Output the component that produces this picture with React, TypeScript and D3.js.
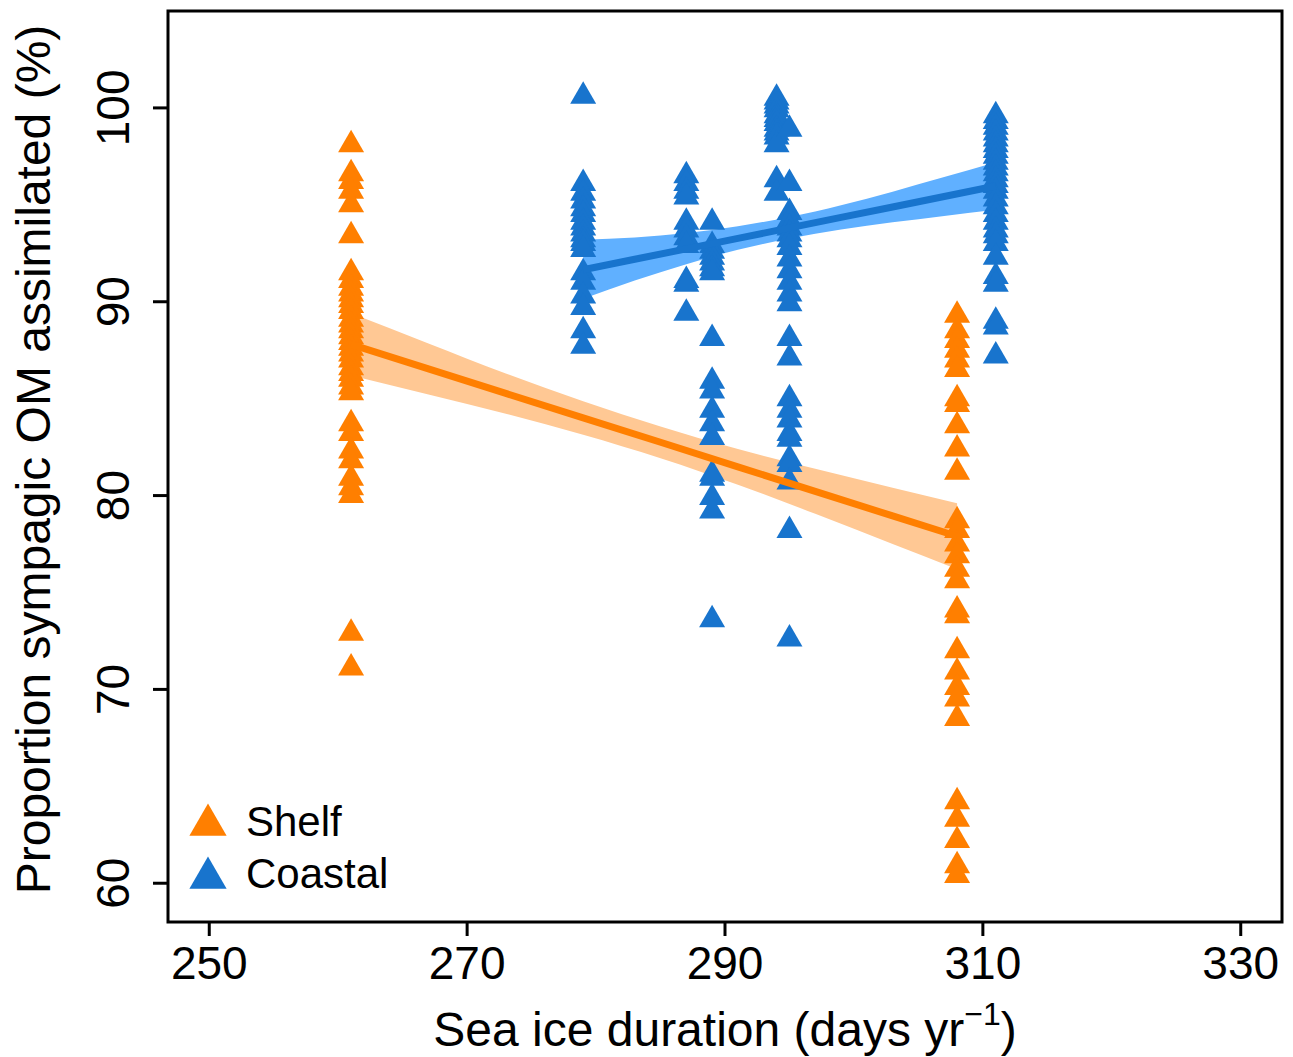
import * as d3 from "d3";

const WIDTH = 1293;
const HEIGHT = 1057;
const BOX = { left: 168, right: 1282, top: 11, bottom: 922 };

const X_TICKS = [250, 270, 290, 310, 330];
const Y_TICKS = [60, 70, 80, 90, 100];

// Shelf stations (sea ice duration, days/yr)
const shelf261 = [
  98.1, 96.6, 96.2, 95.7, 95.0, 93.4, 91.5, 91.1, 90.7, 90.4, 90.1, 89.8,
  89.5, 89.1, 88.8, 88.5, 88.2, 87.9, 87.6, 87.3, 87.0, 86.6, 86.3, 86.0,
  85.6, 85.3, 83.7, 83.2, 82.3, 81.8, 80.9, 80.4, 80.0, 72.9, 71.1,
];
const shelf308 = [
  89.3, 88.5, 88.0, 87.5, 87.0, 86.5, 85.0, 84.7, 83.6, 82.4, 81.2, 78.7,
  78.2, 77.5, 76.9, 76.2, 75.6, 74.1, 73.8, 72.0, 70.9, 70.1, 69.5, 68.5,
  64.2, 63.3, 62.2, 60.9, 60.4,
];

// Coastal stations
const coastal279 = [
  100.6, 96.1, 95.6, 95.2, 94.8, 94.5, 94.1, 93.8, 93.5, 93.2, 93.0, 92.7,
  91.5, 91.0, 90.3, 89.7, 88.5, 87.7,
];
const coastal287 = [96.5, 96.1, 95.7, 95.4, 94.1, 93.7, 93.3, 92.9, 91.1, 90.9, 89.4];
const coastal289 = [
  94.1, 92.9, 92.6, 92.3, 92.0, 91.7, 91.5, 88.1, 85.9, 85.4, 84.4, 83.7,
  83.0, 81.1, 80.9, 79.9, 79.2, 73.6,
];
const coastal294 = [100.5, 100.3, 100.1, 99.9, 99.6, 99.4, 99.2, 98.9, 98.7, 98.5, 98.1, 96.3, 95.6];
const coastal295 = [
  98.9, 96.1, 94.6, 94.2, 93.8, 93.5, 93.2, 92.8, 92.2, 91.6, 91.0, 90.4,
  89.9, 88.1, 87.1, 85.0, 84.4, 83.9, 83.2, 82.9, 81.9, 81.6, 80.7, 78.2,
  72.6,
];
const coastal311 = [
  99.6, 99.3, 99.0, 98.7, 98.4, 98.1, 97.8, 97.5, 97.2, 96.9, 96.6, 96.3,
  96.0, 95.7, 95.3, 94.9, 94.5, 94.1, 93.7, 93.4, 93.0, 92.3, 91.3, 90.9,
  89.0, 88.7, 87.2,
];

// fitted lines with 95% bands
const shelfFitX = [261, 267, 273, 279, 285, 291, 297, 303, 308];
const shelfFit = [87.8, 86.54, 85.27, 84.01, 82.75, 81.48, 80.22, 78.95, 77.9];
const shelfUpper = [89.4, 87.85, 86.3, 84.87, 83.57, 82.4, 81.38, 80.4, 79.6];
const shelfLower = [86.2, 85.22, 84.22, 83.14, 81.93, 80.56, 79.06, 77.5, 76.2];

const coastalFitX = [279, 283, 287, 291, 295, 299, 303, 307, 311];
const coastalFit = [91.65, 92.19, 92.73, 93.27, 93.81, 94.35, 94.89, 95.43, 95.97];
const coastalUpper = [93.2, 93.32, 93.55, 93.9, 94.37, 94.98, 95.68, 96.43, 97.2];
const coastalLower = [90.15, 91.1, 91.94, 92.68, 93.26, 93.73, 94.1, 94.43, 94.75];

const ORANGE = "#FF7F00";
const ORANGE_BAND = "#FFC894";
const BLUE = "#1874CD";
const BLUE_BAND = "#60B0FF";
const FONT = "'Liberation Sans', Arial, Helvetica, sans-serif";

const toPoints = (x: number, ys: number[]) => ys.map((y) => ({ x, y }));

const shelfPoints = [...toPoints(261, shelf261), ...toPoints(308, shelf308)];
const coastalPoints = [
  ...toPoints(279, coastal279),
  ...toPoints(287, coastal287),
  ...toPoints(289, coastal289),
  ...toPoints(294, coastal294),
  ...toPoints(295, coastal295),
  ...toPoints(311, coastal311),
];

// R's pch 17: apex r above the point, base r/2 below
const triangle = (cx: number, cy: number, r: number) => {
  const h = r * 0.866;
  return `M${cx},${cy - r}L${cx + h},${cy + r / 2}L${cx - h},${cy + r / 2}Z`;
};

export default function App() {
  const xScale = d3.scaleLinear().domain([246.8, 333.2]).range([BOX.left, BOX.right]);
  const yScale = d3.scaleLinear().domain([58, 105]).range([BOX.bottom, BOX.top]);

  const band = (xs: number[], lo: number[], hi: number[]) =>
    d3
      .area<number>()
      .x((_, i) => xScale(xs[i]))
      .y0((_, i) => yScale(lo[i]))
      .y1((_, i) => yScale(hi[i]))
      .curve(d3.curveMonotoneX)(xs) || "";

  const line = (xs: number[], ys: number[]) =>
    d3
      .line<number>()
      .x((_, i) => xScale(xs[i]))
      .y((_, i) => yScale(ys[i]))(xs) || "";

  const R = 15;

  return (
    <svg
      width={WIDTH}
      height={HEIGHT}
      style={{ position: "absolute", left: 0, top: 0, background: "#fff" }}
      fontFamily={FONT}
    >
      <rect width={WIDTH} height={HEIGHT} fill="#fff" />

      <path d={band(shelfFitX, shelfLower, shelfUpper)} fill={ORANGE_BAND} />
      <path d={band(coastalFitX, coastalLower, coastalUpper)} fill={BLUE_BAND} />

      {shelfPoints.map((d, i) => (
        <path key={"s" + i} d={triangle(xScale(d.x), yScale(d.y), R)} fill={ORANGE} />
      ))}
      {coastalPoints.map((d, i) => (
        <path key={"c" + i} d={triangle(xScale(d.x), yScale(d.y), R)} fill={BLUE} />
      ))}

      <path d={line(shelfFitX, shelfFit)} stroke={ORANGE} strokeWidth={7} fill="none" />
      <path d={line(coastalFitX, coastalFit)} stroke={BLUE} strokeWidth={7} fill="none" />

      {/* box */}
      <rect
        x={BOX.left}
        y={BOX.top}
        width={BOX.right - BOX.left}
        height={BOX.bottom - BOX.top}
        fill="none"
        stroke="#000"
        strokeWidth={3}
      />

      {/* x axis */}
      {X_TICKS.map((t) => (
        <g key={"x" + t} transform={`translate(${xScale(t)},0)`}>
          <line y1={BOX.bottom} y2={BOX.bottom + 14} stroke="#000" strokeWidth={3} />
          <text y={979} textAnchor="middle" fontSize={46}>
            {t}
          </text>
        </g>
      ))}

      {/* y axis */}
      {Y_TICKS.map((t) => (
        <g key={"y" + t} transform={`translate(0,${yScale(t)})`}>
          <line x1={BOX.left} x2={BOX.left - 15} stroke="#000" strokeWidth={3} />
          <text transform="translate(129,0) rotate(-90)" textAnchor="middle" fontSize={46}>
            {t}
          </text>
        </g>
      ))}

      <text x={(BOX.left + BOX.right) / 2} y={1046} textAnchor="middle" fontSize={48}>
        Sea ice duration (days yr
        <tspan fontSize={32} dy={-21}>
          {"\u22121"}
        </tspan>
        <tspan dy={21}>)</tspan>
      </text>

      <text
        transform={`translate(50,${(BOX.top + BOX.bottom) / 2 - 7}) rotate(-90)`}
        textAnchor="middle"
        fontSize={48}
      >
        Proportion sympagic OM assimilated (%)
      </text>

      {/* legend */}
      <path d={triangle(208, 825, 21.5)} fill={ORANGE} />
      <path d={triangle(208, 878, 21.5)} fill={BLUE} />
      <text x={246} y={836} fontSize={42}>
        Shelf
      </text>
      <text x={246} y={888} fontSize={42}>
        Coastal
      </text>
    </svg>
  );
}
